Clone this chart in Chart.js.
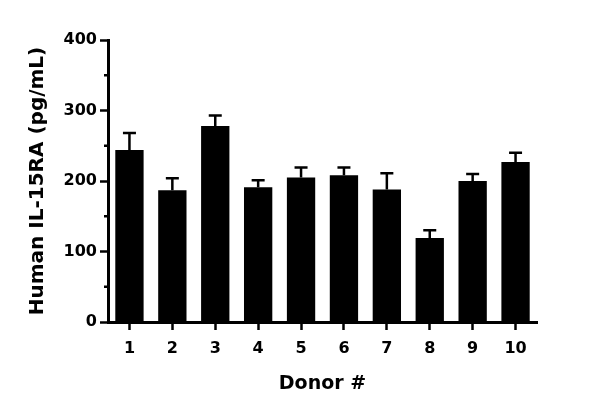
<!DOCTYPE html>
<html>
<head>
<meta charset="utf-8">
<script src="https://cdn.jsdelivr.net/npm/chart.js@4/dist/chart.umd.min.js"></script>
<style>
html,body{margin:0;padding:0;background:#fff;}
#wrap{width:600px;height:414px;position:relative;}
</style>
</head>
<body>
<div id="wrap"><canvas id="c" width="600" height="414"></canvas></div>
<script>
const donors = ['1','2','3','4','5','6','7','8','9','10'];
const meanValues = [244, 187, 278, 191, 205, 208, 188, 119, 200, 227];
const errorValues = [24, 17, 15, 10, 14, 11, 23, 11, 10, 13];
const yTicks = [0, 100, 200, 300, 400];
const yMinorTicks = [50, 150, 250, 350];

const errorBarPlugin = {
  id: 'errorBars',
  afterDatasetsDraw(chart) {
    const ctx = chart.ctx;
    const meta = chart.getDatasetMeta(0);
    const ys = chart.scales.y;
    ctx.save();
    ctx.strokeStyle = '#000';
    ctx.lineWidth = 2.5;
    meta.data.forEach((bar, i) => {
      const top = ys.getPixelForValue(meanValues[i] + errorValues[i]);
      ctx.beginPath();
      ctx.moveTo(bar.x, bar.y);
      ctx.lineTo(bar.x, top);
      ctx.moveTo(bar.x - 6.5, top);
      ctx.lineTo(bar.x + 6.5, top);
      ctx.stroke();
    });
    ctx.restore();
  }
};

const minorTickPlugin = {
  id: 'minorTicks',
  afterDraw(chart) {
    const ctx = chart.ctx;
    const ys = chart.scales.y;
    const x = chart.chartArea.left;
    ctx.save();
    ctx.strokeStyle = '#000';
    ctx.lineWidth = 2.5;
    yMinorTicks.forEach(v => {
      const y = ys.getPixelForValue(v);
      ctx.beginPath();
      ctx.moveTo(x - 4, y);
      ctx.lineTo(x, y);
      ctx.stroke();
    });
    ctx.restore();
  }
};

new Chart(document.getElementById('c'), {
  type: 'bar',
  data: {
    labels: donors,
    datasets: [{
      data: meanValues,
      backgroundColor: '#000',
      borderWidth: 0,
      barPercentage: 0.66,
      categoryPercentage: 1.0
    }]
  },
  options: {
    responsive: false,
    animation: false,
    events: [],
    layout: { padding: { top: 40, right: 63, bottom: 15, left: 22 } },
    plugins: { legend: { display: false }, tooltip: { enabled: false } },
    scales: {
      x: {
        afterFit(scale) { scale.height = 77; },
        grid: { display: true, drawOnChartArea: false, offset: false, tickLength: 8, tickWidth: 2.5, tickColor: '#000' },
        border: { display: true, color: '#000', width: 3 },
        ticks: { color: '#000', font: { family: 'DejaVu Sans', weight: 'bold', size: 16 }, padding: 9, maxRotation: 0 },
        title: { display: true, text: 'Donor #', color: '#000', font: { family: 'DejaVu Sans', weight: 'bold', size: 19 }, padding: { top: 4, bottom: 4 } }
      },
      y: {
        min: 0, max: 400,
        afterFit(scale) { scale.width = 86; },
        afterBuildTicks(scale) { scale.ticks = yTicks.map(v => ({ value: v })); },
        grid: { display: true, drawOnChartArea: false, tickLength: 8, tickWidth: 2.5, tickColor: '#000' },
        border: { display: true, color: '#000', width: 3 },
        ticks: { color: '#000', font: { family: 'DejaVu Sans', weight: 'bold', size: 16 }, padding: 3 },
        title: { display: true, text: 'Human IL-15RA (pg/mL)', color: '#000', font: { family: 'DejaVu Sans', weight: 'bold', size: 20 }, padding: { top: 4, bottom: 4 } }
      }
    }
  },
  plugins: [errorBarPlugin, minorTickPlugin]
});
</script>
</body>
</html>
